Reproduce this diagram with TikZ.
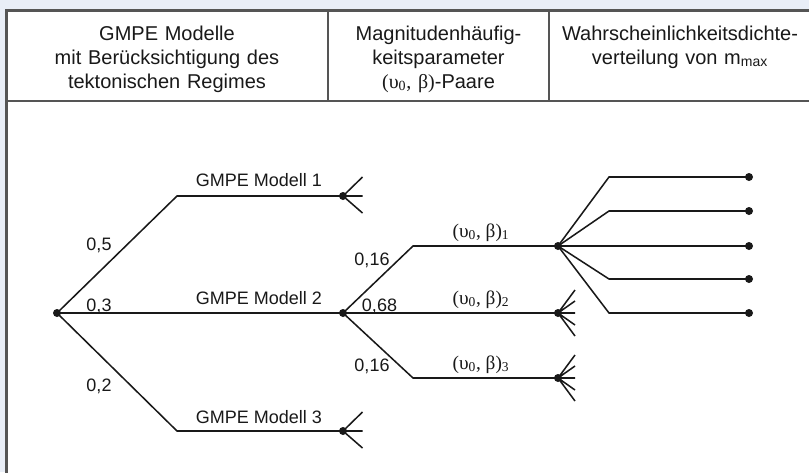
\documentclass[tikz,border=0pt]{standalone}
\usepackage{fontspec}
\setmainfont{Liberation Sans}
\newfontfamily\grk{Liberation Serif}
\definecolor{bgblue}{RGB}{233,238,247}
\definecolor{rulegray}{RGB}{85,85,85}
\definecolor{ink}{RGB}{25,25,25}
\begin{document}
\begin{tikzpicture}[x=0.75pt,y=-0.75pt,
  line/.style={draw=ink,line width=1.15pt,line join=round},
  dot/.style={circle,fill=ink,inner sep=0pt,minimum size=6pt},
  lab/.style={font=\fontsize{13.5}{15}\selectfont,text=ink,inner sep=0pt,anchor=base},
  pair/.style={font=\grk\fontsize{14.5}{16}\selectfont,text=ink,inner sep=0pt,anchor=base},
  head/.style={font=\fontsize{15}{18}\selectfont,text=ink,align=center,inner sep=0pt,anchor=base},
  tab/.style={draw=rulegray,line width=1.7pt}]
\fill[bgblue] (0,0) rectangle (809,472);
\useasboundingbox (0,0) rectangle (809,472);
\clip (0,0) rectangle (809,472);
% table
\draw[tab,fill=white] (6.5,10.5) rectangle (830,500);
\draw[tab] (6.5,101) -- (830,101);
\draw[tab] (328,10.5) -- (328,101);
\draw[tab] (549,10.5) -- (549,101);
% header
\node[head,text width=235pt] (h1) at (167,40) {GMPE Modelle\\mit Berücksichtigung des\\tektonischen Regimes};
\node[head,text width=160pt] (h2) at (438.5,40) {Magnitudenhäufig-\\keitsparameter\\{\grk(υ\textsubscript{0}, β)}-Paare};
\node[head,text width=195pt] (h3) at (680,40) {Wahrscheinlichkeitsdichte-\\verteilung von m\textsubscript{max}};
% stage 1
\node[dot] (r) at (57,313) {};
\coordinate (u1) at (177,196);
\node[dot] (m1) at (343,196) {};
\node[dot] (m2) at (343,313) {};
\coordinate (l1) at (177,431);
\node[dot] (m3) at (343,431) {};
\draw[line] (r.center) -- (u1) -- (m1.center);
\draw[line] (r.center) -- (m2.center);
\draw[line] (r.center) -- (l1) -- (m3.center);
\foreach \n in {m1,m3}
  \draw[line] (\n.center) -- ++(19.5,-19) (\n.center) -- ++(19.5,0) (\n.center) -- ++(19.5,17);
\node[lab] (t1) at (259,186) {GMPE Modell 1};
\node[lab] (t2) at (259,304) {GMPE Modell 2};
\node[lab] (t3) at (259,423) {GMPE Modell 3};
\node[lab] (w1) at (99,250) {0,5};
\node[lab] (w2) at (99,311) {0,3};
\node[lab] (w3) at (99,391) {0,2};
% stage 2
\coordinate (u2) at (413,246);
\node[dot] (p1) at (558,246) {};
\node[dot] (p2) at (558,313) {};
\coordinate (l2) at (413,378);
\node[dot] (p3) at (558,378) {};
\draw[line] (m2.center) -- (u2) -- (p1.center);
\draw[line] (m2.center) -- (p2.center);
\draw[line] (m2.center) -- (l2) -- (p3.center);
\foreach \n in {p2,p3}
  \draw[line] (\n.center) -- ++(17,-23) (\n.center) -- ++(17,-12) (\n.center) -- ++(17,0)
              (\n.center) -- ++(17,12) (\n.center) -- ++(17,23);
\node[lab] (v1) at (372,265) {0,16};
\node[lab] (v2) at (379.5,311) {0,68};
\node[lab] (v3) at (372,371) {0,16};
\node[pair] (q1) at (481,237) {(υ\textsubscript{0}, β)\textsubscript{1}};
\node[pair] (q2) at (481,304) {(υ\textsubscript{0}, β)\textsubscript{2}};
\node[pair] (q3) at (481,369) {(υ\textsubscript{0}, β)\textsubscript{3}};
% stage 3
\coordinate (f1) at (609,177);
\coordinate (f2) at (609,211);
\coordinate (f4) at (609,279);
\coordinate (f5) at (609,313);
\node[dot] (e1) at (749,177) {};
\node[dot] (e2) at (749,211) {};
\node[dot] (e3) at (749,246) {};
\node[dot] (e4) at (749,279) {};
\node[dot] (e5) at (749,313) {};
\draw[line] (p1.center) -- (f1) -- (e1.center);
\draw[line] (p1.center) -- (f2) -- (e2.center);
\draw[line] (p1.center) -- (e3.center);
\draw[line] (p1.center) -- (f4) -- (e4.center);
\draw[line] (p1.center) -- (f5) -- (e5.center);
\end{tikzpicture}
\end{document}
